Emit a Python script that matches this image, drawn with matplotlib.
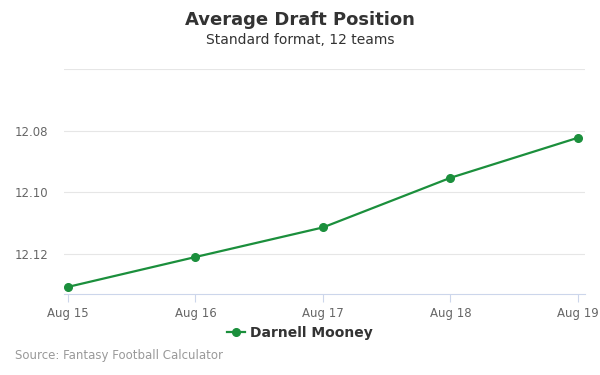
import numpy as np
import matplotlib.pyplot as plt

# ADP data
dates = ["Aug 15", "Aug 16", "Aug 17", "Aug 18", "Aug 19"]
adp = [12.1307, 12.1210, 12.1114, 12.0953, 12.0823]
player = "Darnell Mooney"

yticks = [12.06, 12.08, 12.10, 12.12]
ylabels = ["", "12.08", "12.10", "12.12"]

green = "#1b8f3c"

fig = plt.figure(figsize=(6, 3.75), dpi=100)
ax = fig.add_axes([64/600, 1-294/375, (585-64)/600, (294-69)/375])

x = np.arange(len(dates))
ax.plot(x, adp, color=green, linewidth=1.6, marker="o", markersize=5.5, label=player, zorder=3)

ax.set_xlim(-0.031, 4.055)
ax.set_ylim(12.133, 12.06)
ax.set_xticks(x)
ax.set_xticklabels(dates)
ax.set_yticks(yticks)
ax.set_yticklabels(ylabels)

ax.grid(axis="y", color="#e6e6e6", linewidth=0.8)
ax.set_axisbelow(True)
for s in ["top", "right", "left"]:
    ax.spines[s].set_visible(False)
ax.spines["bottom"].set_color("#ccd6eb")
ax.tick_params(axis="y", length=0, labelsize=8.5, labelcolor="#666666", pad=11.5)
ax.tick_params(axis="x", length=6, color="#ccd6eb", labelsize=8.5, labelcolor="#666666", pad=3)

fig.text(0.5, 0.946, "Average Draft Position", ha="center", va="center",
         fontsize=13, fontweight="bold", color="#333333")
fig.text(0.5, 0.892, "Standard format, 12 teams", ha="center", va="center",
         fontsize=10, color="#333333")

leg = fig.legend(loc="center", bbox_to_anchor=(0.5, 1-333/375), frameon=False,
                 prop={"weight": "bold", "size": 10}, handlelength=1.3, handletextpad=0.4)
for t in leg.get_texts():
    t.set_color("#333333")

fig.text(15/600, 1-356/375, "Source: Fantasy Football Calculator", ha="left", va="center",
         fontsize=8.5, color="#999999")

fig.savefig("out.png", dpi=100)
